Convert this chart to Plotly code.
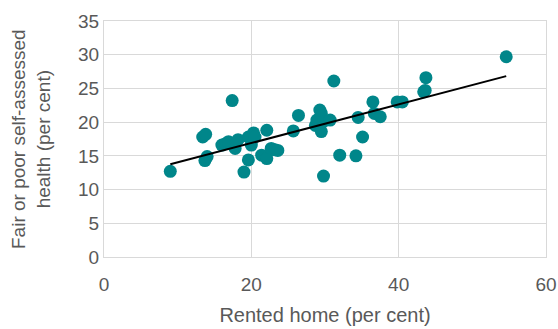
import numpy as np
import plotly.graph_objects as go

rented = [9.0, 13.4, 13.8, 13.7, 14.0, 16.0, 16.5, 16.9, 17.4, 17.8, 18.2, 19.0, 19.6, 19.6,
          20.0, 20.3, 20.5, 21.4, 22.1, 22.1, 22.7, 23.2, 23.6, 25.7, 26.4, 28.7, 28.9,
          29.3, 29.5, 29.5, 29.8, 30.7, 29.8, 31.2, 32.0, 34.2, 34.5, 35.1, 36.5, 36.7,
          37.5, 39.8, 40.5, 43.4, 43.6, 43.7, 54.6]
health = [12.7, 17.8, 18.2, 14.3, 14.9, 16.6, 16.8, 17.1, 23.2, 16.1, 17.4, 12.6, 17.8, 14.4,
          16.6, 18.4, 17.8, 15.1, 14.6, 18.8, 16.1, 15.9, 15.8, 18.7, 21.0, 19.5, 20.3,
          21.8, 21.3, 18.6, 20.1, 20.3, 12.0, 26.1, 15.1, 15.0, 20.7, 17.8, 23.0, 21.3,
          20.8, 23.0, 23.0, 24.5, 24.7, 26.6, 29.7]

x_ticks = [0, 20, 40, 60]
y_ticks = [0, 5, 10, 15, 20, 25, 30, 35]

slope, intercept = np.polyfit(rented, health, 1)
trend_x = [min(rented), max(rented)]
trend_y = [slope * v + intercept for v in trend_x]

teal = "#00868A"
grey_text = "#595959"
grid = "#d9d9d9"
font = "Liberation Sans, Arial, sans-serif"

fig = go.Figure()
fig.add_trace(go.Scatter(x=rented, y=health, mode="markers",
                         marker=dict(size=13, color=teal, line=dict(width=0)),
                         showlegend=False, hoverinfo="x+y"))
fig.add_trace(go.Scatter(x=trend_x, y=trend_y, mode="lines",
                         line=dict(color="black", width=2),
                         showlegend=False, hoverinfo="skip"))

fig.update_layout(
    width=558, height=329,
    margin=dict(l=104, r=12, t=21, b=72),
    paper_bgcolor="white", plot_bgcolor="white",
    font=dict(family=font, size=19, color=grey_text),
    xaxis=dict(range=[0, 60], tickvals=x_ticks, showgrid=True, gridcolor=grid, gridwidth=1,
               zeroline=False, showline=True, linecolor=grid, linewidth=1, mirror=True,
               ticks="", ticklen=0, automargin=False, tickfont=dict(size=19),
               ticklabelstandoff=10,
               title=dict(text="Rented home (per cent)", font=dict(size=20, color=grey_text), standoff=14)),
    yaxis=dict(range=[0, 35], tickvals=y_ticks, showgrid=True, gridcolor=grid, gridwidth=1,
               zeroline=False, showline=True, linecolor=grid, linewidth=1, mirror=True,
               ticks="", ticklen=0, automargin=False, tickfont=dict(size=19)),
    annotations=[dict(text="Fair or poor self-assessed<br>health (per cent)",
                      xref="paper", yref="paper", x=(31 - 104) / 442, y=0.5,
                      xanchor="center", yanchor="middle", textangle=-90, showarrow=False,
                      font=dict(size=19, color=grey_text, family=font))],
)

fig.write_html("out.html", config={"displayModeBar": False},
               post_script="document.body.style.margin='0';")
